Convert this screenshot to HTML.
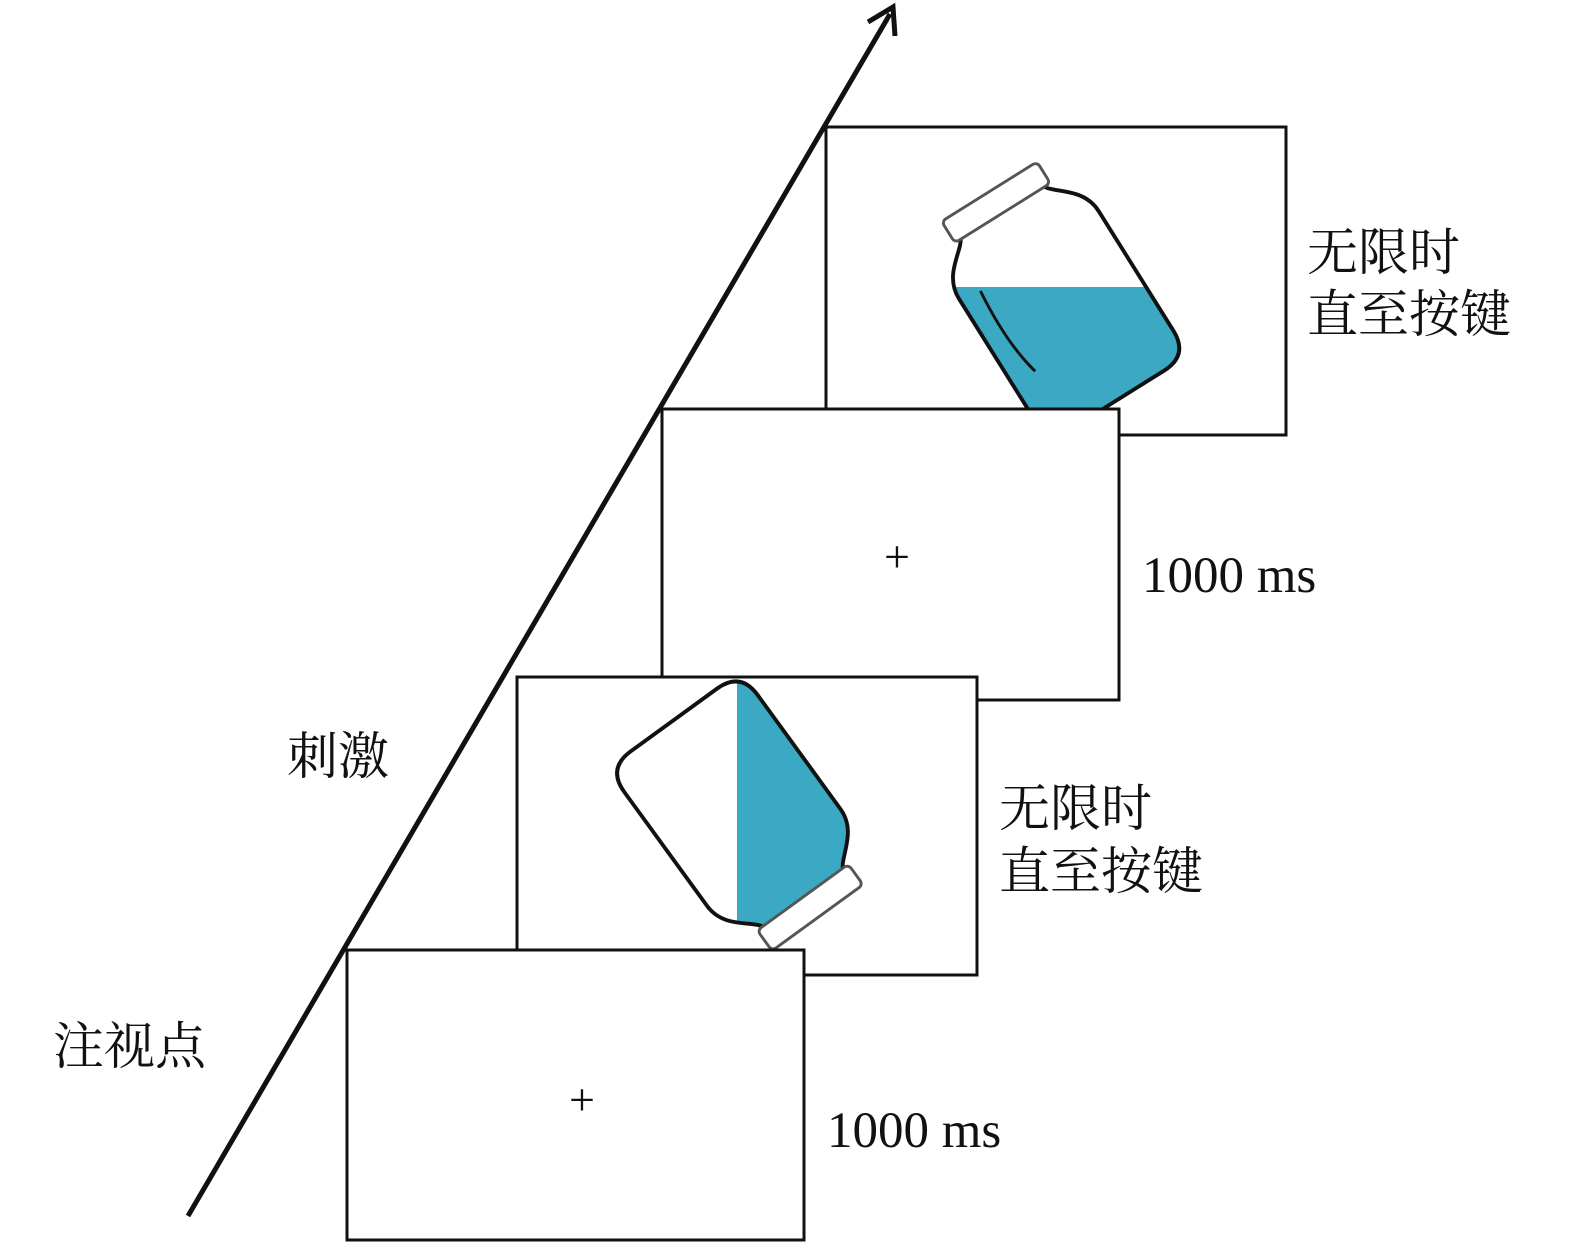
<!DOCTYPE html>
<html><head><meta charset="utf-8"><style>
html,body{margin:0;padding:0;background:#fff}
svg{display:block}
text{font-family:"Liberation Serif","Noto Serif CJK SC","Noto Sans CJK SC",serif;fill:#111}
</style></head><body>
<svg width="1575" height="1249" viewBox="0 0 1575 1249" xmlns="http://www.w3.org/2000/svg">
<defs>
<path id="body" d="M-50,-98 L50,-98 C55,-85 85,-75 85,-45 L85,100 Q85,130 55,130 L-55,130 Q-85,130 -85,100 L-85,-45 C-85,-75 -55,-85 -50,-98 Z"/>
<clipPath id="c1" clipPathUnits="userSpaceOnUse"><use href="#body" transform="translate(1052,292) rotate(-32) scale(0.97)"/></clipPath>
<clipPath id="c2" clipPathUnits="userSpaceOnUse"><use href="#body" transform="translate(748,822) rotate(144) scale(0.97)"/></clipPath>
</defs>
<line x1="188" y1="1216" x2="890" y2="14" stroke="#111" stroke-width="5"/>
<polyline points="868,22 893,7 895,36" fill="none" stroke="#111" stroke-width="5"/>
<rect x="826" y="127" width="460" height="308" fill="#fff" stroke="#111" stroke-width="3"/>
<rect x="900" y="287" width="400" height="200" fill="#3ca9c4" clip-path="url(#c1)"/>
<g transform="translate(1052,292) rotate(-32) scale(0.97)" fill="none" stroke="#111" stroke-width="4">
<use href="#body"/>
<rect x="-58" y="-122" width="116" height="26" rx="5" fill="#fff" stroke="#555" stroke-width="3"/>
<path d="M-62,-40 Q-68,20 -58,60" stroke-width="3"/>
</g>
<rect x="662" y="409" width="457" height="291" fill="#fff" stroke="#111" stroke-width="3"/>
<text x="897" y="572" font-size="46" text-anchor="middle">+</text>
<rect x="517" y="677" width="460" height="298" fill="#fff" stroke="#111" stroke-width="3"/>
<rect x="737" y="650" width="200" height="320" fill="#3ca9c4" clip-path="url(#c2)"/>
<g transform="translate(748,822) rotate(144) scale(0.97)" fill="none" stroke="#111" stroke-width="4">
<use href="#body"/>
<rect x="-58" y="-122" width="116" height="26" rx="5" fill="#fff" stroke="#555" stroke-width="3"/>
</g>
<rect x="347" y="950" width="457" height="290" fill="#fff" stroke="#111" stroke-width="3"/>
<text x="582" y="1115" font-size="46" text-anchor="middle">+</text>
<text x="1307" y="270" font-size="51">无限时</text>
<text x="1307" y="332" font-size="51">直至按键</text>
<text x="1142" y="592" font-size="51">1000 ms</text>
<text x="999" y="826" font-size="51">无限时</text>
<text x="999" y="889" font-size="51">直至按键</text>
<text x="287" y="774" font-size="51">刺激</text>
<text x="53" y="1064" font-size="51">注视点</text>
<text x="827" y="1147" font-size="51">1000 ms</text>
</svg>
</body></html>
